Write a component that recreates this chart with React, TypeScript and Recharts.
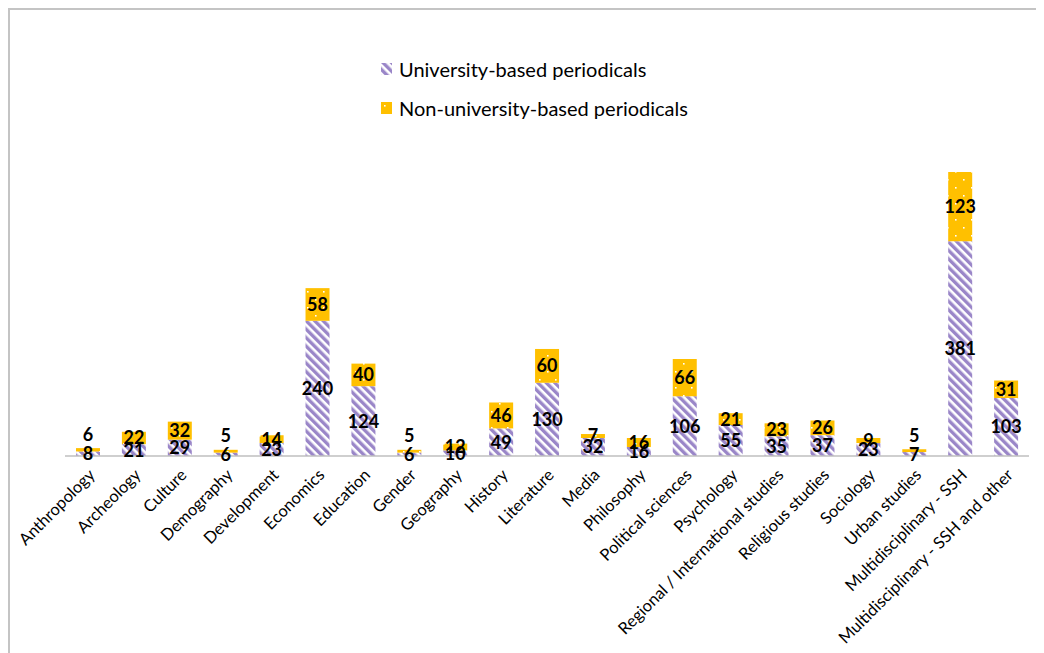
import React from "react";
import { BarChart, Bar, XAxis, YAxis, LabelList } from "recharts";

const categories = [
  "Anthropology",
  "Archeology",
  "Culture",
  "Demography",
  "Development",
  "Economics",
  "Education",
  "Gender",
  "Geography",
  "History",
  "Literature",
  "Media",
  "Philosophy",
  "Political sciences",
  "Psychology",
  "Regional / International studies",
  "Religious studies",
  "Sociology",
  "Urban studies",
  "Multidisciplinary - SSH",
  "Multidisciplinary - SSH and other",
];
const universityBased = [8, 21, 29, 6, 23, 240, 124, 6, 10, 49, 130, 32, 16, 106, 55, 35, 37, 23, 7, 381, 103];
const nonUniversityBased = [6, 22, 32, 5, 14, 58, 40, 5, 12, 46, 60, 7, 16, 66, 21, 23, 26, 9, 5, 123, 31];
const seriesNames = ["University-based periodicals", "Non-university-based periodicals"];

const data = categories.map((name, i) => ({
  name,
  uni: universityBased[i],
  nonUni: nonUniversityBased[i],
}));

const FONT = "Lato, 'Open Sans', sans-serif";
const PURPLE = "#9a86c8";
const GOLD = "#ffc000";

const Patterns = () => (
  <defs>
    <pattern id="stripes" width="6" height="6" patternUnits="userSpaceOnUse" patternTransform="rotate(-45)">
      <rect width="6" height="6" fill="#ffffff" />
      <rect width="3.4" height="6" fill={PURPLE} />
    </pattern>
    <pattern id="dots" width="16" height="16" patternUnits="userSpaceOnUse">
      <rect width="16" height="16" fill={GOLD} />
      <rect x="3" y="3" width="1.6" height="1.6" fill="#ffffff" />
      <rect x="11" y="11" width="1.6" height="1.6" fill="#ffffff" />
    </pattern>
  </defs>
);

const SegmentLabel = (props: any) => {
  const { x, y, width, height, value, top } = props;
  const cx = x + width / 2;
  // very thin top segments get their label above the bar, like the original
  const cy = top && height < 3.6 ? y - 14 : y + height / 2;
  return (
    <text
      x={cx}
      y={cy}
      dy="0.36em"
      textAnchor="middle"
      fontFamily={FONT}
      fontWeight={700}
      fontSize={18}
      fill="#000"
    >
      {value}
    </text>
  );
};

const AngledTick = (props: any) => {
  const { x, y, payload } = props;
  return (
    <g transform={`translate(${x + 8},${y + 12})`}>
      <text
        transform="rotate(-45)"
        textAnchor="end"
        fontFamily={FONT}
        fontSize={16.5}
        fill="#000"
      >
        {payload.value}
      </text>
    </g>
  );
};

const LegendIcon = ({ fill }: { fill: string }) => (
  <svg width={11} height={12} style={{ marginRight: 7 }}>
    <Patterns />
    <rect width={11} height={12} fill={fill} />
  </svg>
);

export default function App() {
  return (
    <div style={{ position: "relative", width: 1036, height: 645, overflow: "hidden", background: "#fff" }}>
      <div
        style={{
          position: "absolute",
          left: 0,
          top: 0,
          width: 1100,
          height: 700,
          borderLeft: "2px solid #c4c4c4",
          borderTop: "2px solid #c4c4c4",
        }}
      />
      <div style={{ position: "absolute", left: 373, top: 48, fontFamily: FONT, fontSize: 20, color: "#000" }}>
        <div style={{ display: "flex", alignItems: "center", height: 26 }}>
          <LegendIcon fill="url(#stripes)" />
          {seriesNames[0]}
        </div>
        <div style={{ display: "flex", alignItems: "center", height: 26, marginTop: 13 }}>
          <LegendIcon fill="url(#dots)" />
          {seriesNames[1]}
        </div>
      </div>
      <div style={{ position: "absolute", left: 0, top: 0 }}>
        <BarChart
          width={1036}
          height={645}
          data={data}
          margin={{ top: 110, right: 15, bottom: 7, left: 57 }}
          barSize={24}
        >
          <Patterns />
          <XAxis
            dataKey="name"
            interval={0}
            tickLine={false}
            axisLine={{ stroke: "#bfbfbf", strokeWidth: 1.5 }}
            tick={<AngledTick />}
            height={190}
          />
          <YAxis hide domain={[0, 600]} />
          <Bar dataKey="uni" stackId="a" fill="url(#stripes)" isAnimationActive={false}>
            <LabelList dataKey="uni" content={<SegmentLabel />} />
          </Bar>
          <Bar dataKey="nonUni" stackId="a" fill="url(#dots)" isAnimationActive={false}>
            <LabelList dataKey="nonUni" content={<SegmentLabel top />} />
          </Bar>
        </BarChart>
      </div>
    </div>
  );
}
